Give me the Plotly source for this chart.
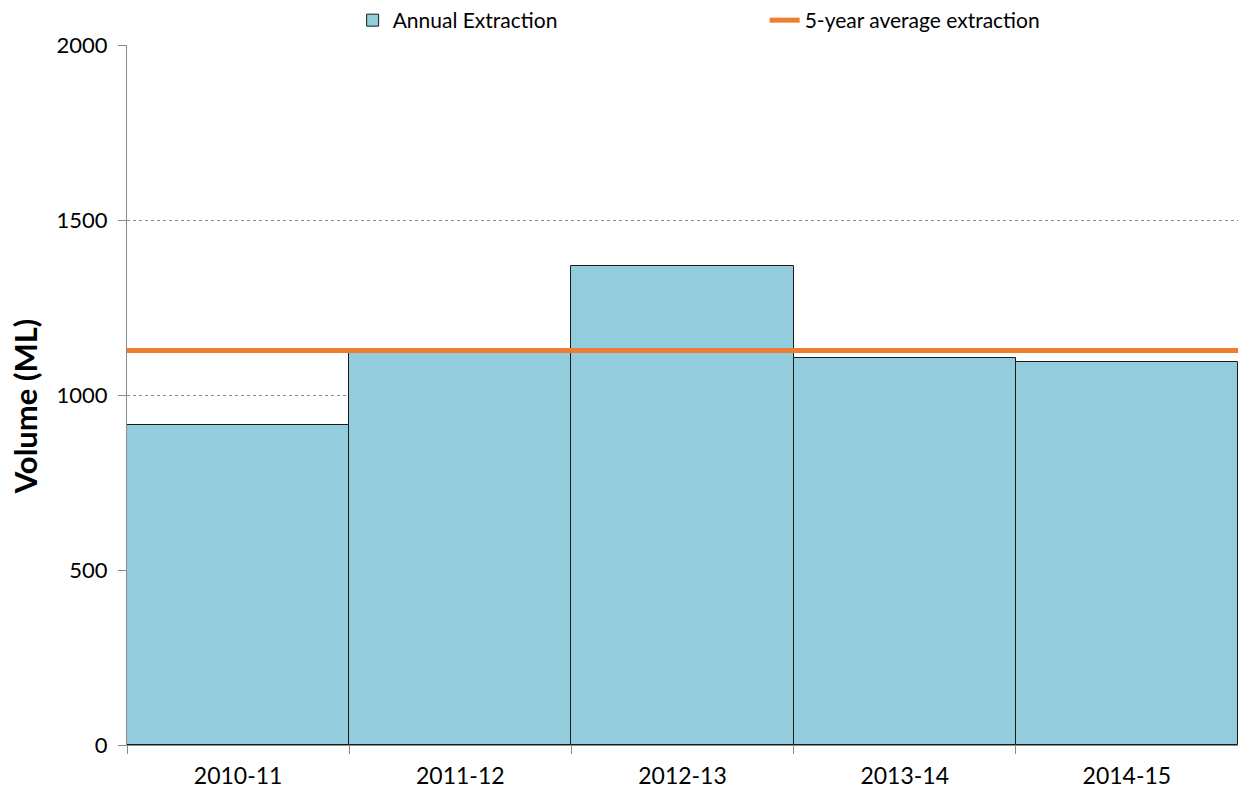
import plotly.graph_objects as go

years = ["2010-11", "2011-12", "2012-13", "2013-14", "2014-15"]
extraction = [914, 1124, 1370, 1106, 1095]
avg_extraction = 1127
yticks = [0, 500, 1000, 1500, 2000]
y_title = "Volume (ML)"

fig = go.Figure()
fig.add_trace(go.Bar(
    x=years, y=extraction, name="Annual Extraction",
    marker=dict(color="#93CDDD", line=dict(color="#1a1a1a", width=1)),
    width=1.0,
))
fig.add_trace(go.Scatter(
    x=[0, 1], y=[avg_extraction, avg_extraction], xaxis="x2",
    mode="lines", name="5-year average extraction",
    line=dict(color="#ED7D31", width=5),
))

font = "Lato, 'Open Sans', sans-serif"
fig.update_layout(
    width=1238, height=791,
    margin=dict(l=127, r=0, t=45, b=46),
    paper_bgcolor="white", plot_bgcolor="white",
    font=dict(family=font, size=22, color="#000000"),
    bargap=0,
    showlegend=True,
    legend=dict(orientation="h", x=0.2031, xanchor="left", y=1.065, yanchor="top",
                font=dict(size=21), entrywidth=367, entrywidthmode="pixels",
                bgcolor="rgba(0,0,0,0)"),
    xaxis=dict(type="category", showgrid=False, showline=True, linecolor="#8c8c8c",
               ticks="outside", tickson="boundaries", ticklen=8, tickcolor="#8c8c8c",
               tickfont=dict(size=23), range=[-0.5, 4.5], zeroline=False,
               ticklabelstandoff=10),
    xaxis2=dict(overlaying="x", range=[0, 1], visible=False, showgrid=False),
    yaxis=dict(range=[0, 2000], tickvals=yticks, showgrid=True, gridcolor="#8a8a8a",
               griddash="dot", gridwidth=1, showline=True, linecolor="#8c8c8c",
               ticks="outside", ticklen=8, tickcolor="#8c8c8c", zeroline=False,
               tickfont=dict(size=22), ticklabelstandoff=6),
    annotations=[dict(text="<b>" + y_title + "</b>", textangle=-90, showarrow=False,
                      xref="paper", yref="paper", x=-0.0918, y=0.484,
                      xanchor="center", yanchor="middle", font=dict(size=31))],
)

fig.write_html("out.html", config={"displayModeBar": False},
               post_script="document.body.style.margin='0';document.body.style.overflow='hidden';")
